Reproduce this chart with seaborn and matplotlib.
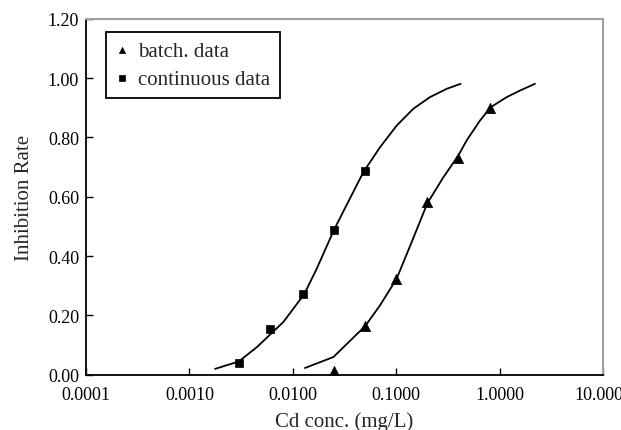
import numpy as np
import pandas as pd
import matplotlib
matplotlib.use("Agg")
import matplotlib.pyplot as plt
import matplotlib.ticker as mticker
import seaborn as sns

# measured points
batch_conc = [0.025, 0.05, 0.1, 0.2, 0.4, 0.8]
batch_rate = [0.012, 0.164, 0.324, 0.582, 0.730, 0.900]
cont_conc = [0.003, 0.006, 0.0125, 0.025, 0.05]
cont_rate = [0.040, 0.153, 0.272, 0.488, 0.686]

# fitted curves
cont_fit_conc = [0.00177, 0.0030, 0.00448, 0.0081, 0.0129, 0.017, 0.025, 0.0332,
                 0.0481, 0.0697, 0.101, 0.1465, 0.212, 0.308, 0.42]
cont_fit_rate = [0.020, 0.045, 0.093, 0.178, 0.272, 0.357, 0.488, 0.573,
                 0.683, 0.767, 0.840, 0.897, 0.936, 0.964, 0.981]
batch_fit_conc = [0.0131, 0.0247, 0.050, 0.0697, 0.101, 0.141, 0.2, 0.286,
                  0.40, 0.48, 0.646, 0.82, 1.17, 1.57, 2.2]
batch_fit_rate = [0.023, 0.060, 0.164, 0.234, 0.324, 0.447, 0.578, 0.666,
                  0.740, 0.790, 0.857, 0.902, 0.936, 0.958, 0.981]

x_ticks = [0.0001, 0.001, 0.01, 0.1, 1, 10]
y_ticks = [0.0, 0.2, 0.4, 0.6, 0.8, 1.0, 1.2]

sns.set_style("ticks")
plt.rcParams["font.family"] = ["Liberation Serif", "DejaVu Serif"]

fig = plt.figure(figsize=(6.21, 4.31), dpi=100)
ax = fig.add_axes([0.1385, 0.128, 0.8325, 0.826])

cont_fit = pd.DataFrame({"conc": cont_fit_conc, "rate": cont_fit_rate})
batch_fit = pd.DataFrame({"conc": batch_fit_conc, "rate": batch_fit_rate})
sns.lineplot(data=cont_fit, x="conc", y="rate", color="black", lw=1.3,
             estimator=None, sort=False, ax=ax, legend=False)
sns.lineplot(data=batch_fit, x="conc", y="rate", color="black", lw=1.3,
             estimator=None, sort=False, ax=ax, legend=False)

sns.scatterplot(x=batch_conc, y=batch_rate, marker="^", s=55, color="black",
                edgecolor="black", linewidth=0.5, ax=ax, label="batch. data", zorder=3)
sns.scatterplot(x=cont_conc, y=cont_rate, marker="s", s=40, color="black",
                edgecolor="black", linewidth=0.5, ax=ax, label="continuous data", zorder=3)

ax.set_xscale("log")
ax.set_xlim(1e-4, 10)
ax.set_ylim(0, 1.2)
ax.set_xticks(x_ticks)
ax.xaxis.set_minor_locator(mticker.NullLocator())
ax.xaxis.set_major_formatter(mticker.FuncFormatter(lambda v, p: f"{v:.4f}"))
ax.set_yticks(y_ticks)
ax.yaxis.set_major_formatter(mticker.FuncFormatter(lambda v, p: f"{v:.2f}"))
ax.tick_params(direction="in", length=5, width=1, labelsize=13, colors="black")
ax.tick_params(axis="x", pad=8)
ax.tick_params(axis="y", pad=5)

for side in ["left", "bottom"]:
    ax.spines[side].set_color("black")
    ax.spines[side].set_linewidth(1.3)
for side in ["top", "right"]:
    ax.spines[side].set_visible(True)
    ax.spines[side].set_color("#a0a0a0")
    ax.spines[side].set_linewidth(1.5)

ax.set_xlabel("Cd conc. (mg/L)", fontsize=15, labelpad=6)
ax.set_ylabel("Inhibition Rate", fontsize=15, labelpad=10)

leg = ax.legend(loc="upper left", bbox_to_anchor=(0.039, 0.963), borderaxespad=0,
                fontsize=15, frameon=True, fancybox=False, edgecolor="black",
                framealpha=1, markerscale=0.6, handlelength=0.6, handletextpad=0.5,
                borderpad=0.45, labelspacing=0.4)
leg.get_frame().set_linewidth(1.3)

fig.savefig("out.png", dpi=100)
